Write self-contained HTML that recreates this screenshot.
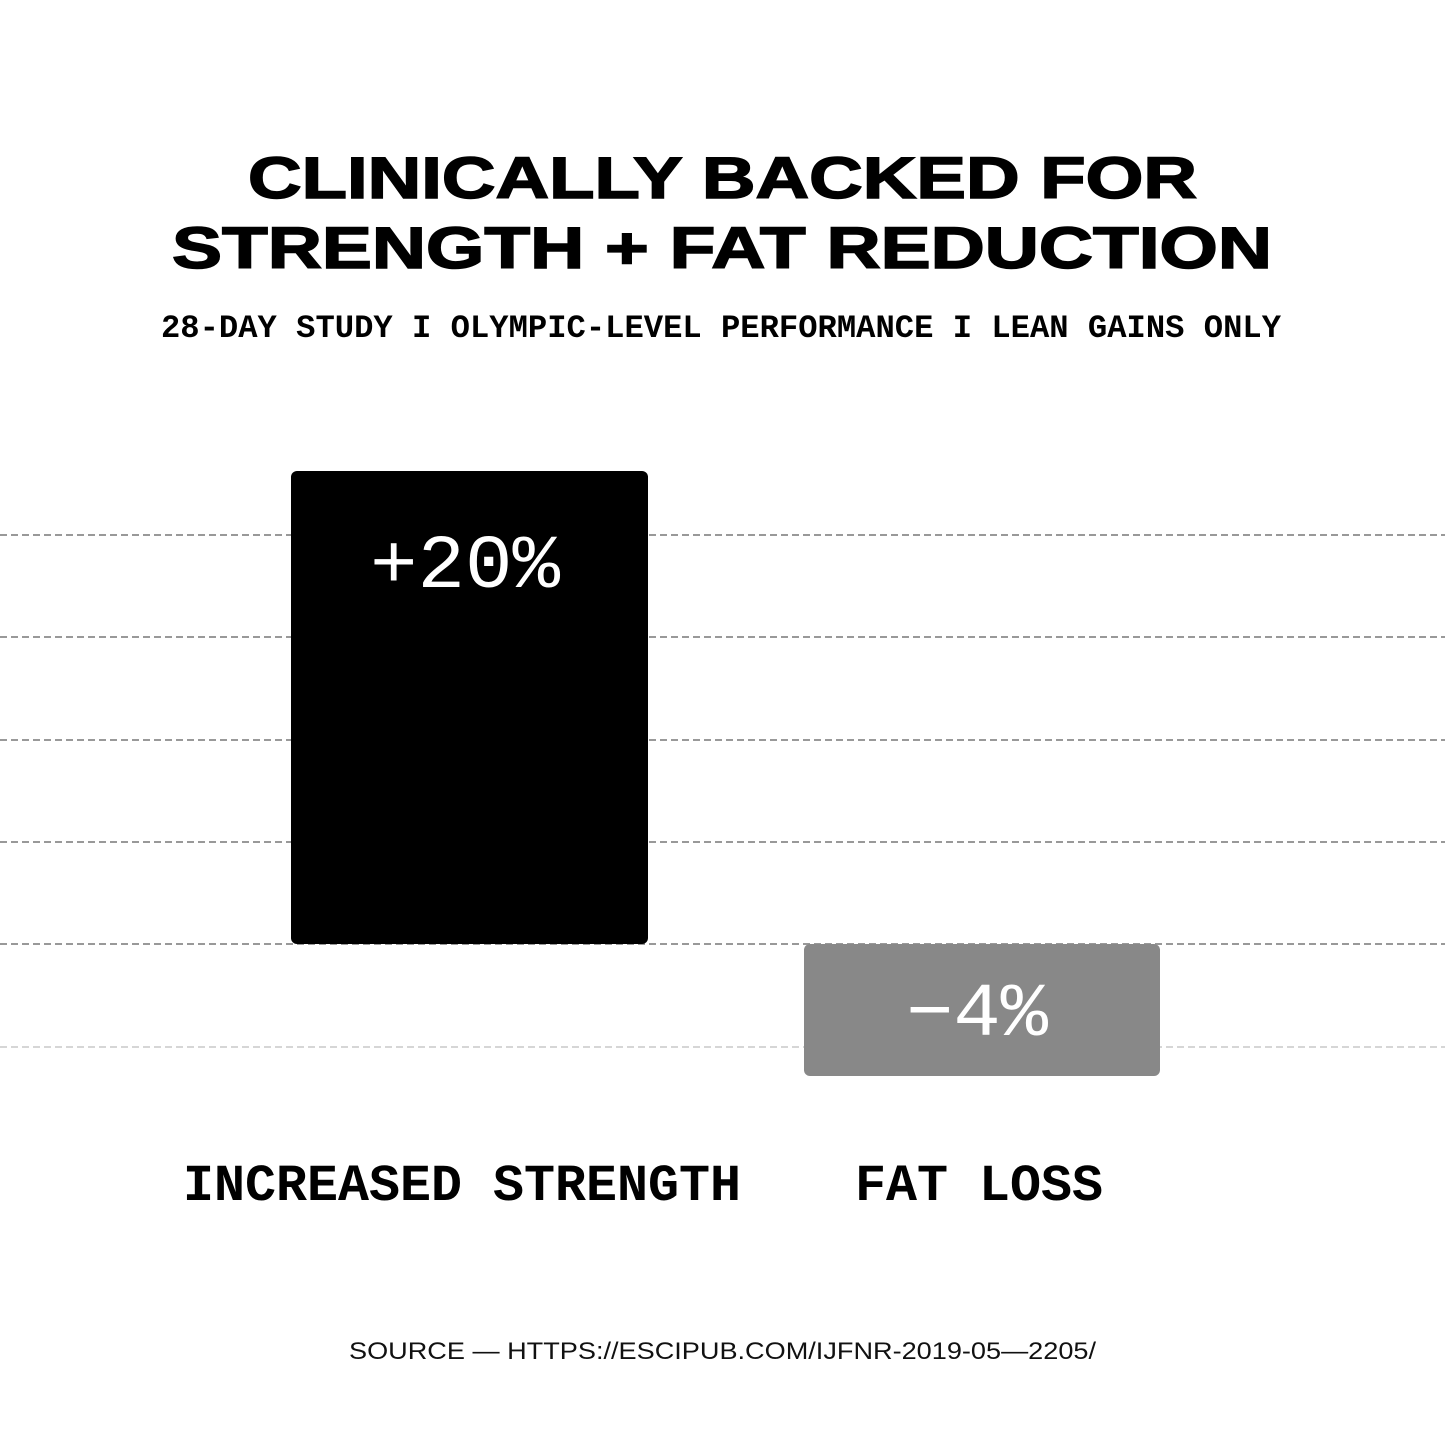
<!DOCTYPE html>
<html><head><meta charset="utf-8"><style>
html,body{margin:0;padding:0;background:#fff;}
svg{display:block}
</style></head><body>
<svg width="1445" height="1445" viewBox="0 0 1445 1445" xmlns="http://www.w3.org/2000/svg">
<rect width="1445" height="1445" fill="#fff"/>
<g font-family="Liberation Sans, sans-serif" font-weight="900" fill="#000" stroke="#000" stroke-width="1.5">
<text x="248" y="198" font-size="58" textLength="949" lengthAdjust="spacingAndGlyphs">CLINICALLY BACKED FOR</text>
<text x="172" y="268" font-size="58" textLength="1100" lengthAdjust="spacingAndGlyphs">STRENGTH + FAT REDUCTION</text>
</g>
<text x="161" y="337" font-family="Liberation Mono, monospace" font-weight="bold" font-size="32" textLength="1120" lengthAdjust="spacingAndGlyphs">28-DAY STUDY I OLYMPIC-LEVEL PERFORMANCE I LEAN GAINS ONLY</text>
<g stroke-width="2" stroke-dasharray="7,4">
<line x1="0" y1="535" x2="1445" y2="535" stroke="#999"/>
<line x1="0" y1="637" x2="1445" y2="637" stroke="#999"/>
<line x1="0" y1="740" x2="1445" y2="740" stroke="#999"/>
<line x1="0" y1="842" x2="1445" y2="842" stroke="#999"/>
<line x1="0" y1="944" x2="1445" y2="944" stroke="#999"/>
<line x1="0" y1="1047" x2="1445" y2="1047" stroke="#d6d6d6"/>
</g>
<rect x="291" y="471" width="357" height="473" rx="6" fill="#000"/>
<rect x="804" y="944" width="356" height="132" rx="6" fill="#888"/>
<text x="370" y="587" font-family="Liberation Mono, monospace" font-size="76" fill="#fff" textLength="190" lengthAdjust="spacingAndGlyphs">+20%</text>
<text x="906" y="1035" font-family="Liberation Mono, monospace" font-size="76" fill="#fff" textLength="142" lengthAdjust="spacingAndGlyphs">−4%</text>
<g font-family="Liberation Mono, monospace" font-weight="bold" font-size="52" fill="#000">
<text x="183" y="1200" textLength="558" lengthAdjust="spacingAndGlyphs">INCREASED STRENGTH</text>
<text x="855" y="1200" textLength="248" lengthAdjust="spacingAndGlyphs">FAT LOSS</text>
</g>
<text x="349" y="1359" font-family="Liberation Sans, sans-serif" font-size="24" fill="#111" textLength="747" lengthAdjust="spacingAndGlyphs">SOURCE — HTTPS://ESCIPUB.COM/IJFNR-2019-05—2205/</text>
</svg>
</body></html>
